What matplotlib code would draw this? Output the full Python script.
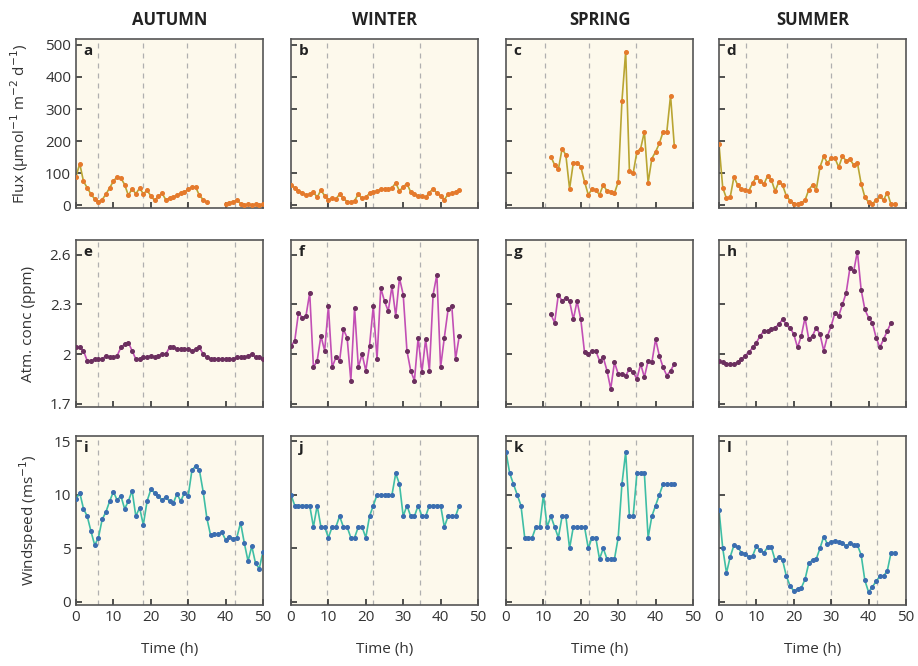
import matplotlib
matplotlib.use("Agg")
import matplotlib.pyplot as plt
import numpy as np

plt.rcParams['font.family'] = ['Open Sans', 'DejaVu Sans']

seasons = ["AUTUMN", "WINTER", "SPRING", "SUMMER"]
letters = list("abcdefghijkl")

# ---- Flux (row 1) ----
flux_a_x = list(range(0, 36)) + list(range(40, 51))
flux_a = [90, 130, 75, 55, 35, 20, 12, 18, 35, 55, 75, 90, 85, 65, 31, 52, 36, 54, 36, 47, 30, 16, 28, 38, 18, 22, 26, 32, 38, 42, 50, 57, 57, 31, 18, 10,
          3, 8, 12, 16, 6, 2, 3, 2, 3, 2, 3]
flux_b_x = list(range(0, 46))
flux_b = [65, 55, 45, 40, 32, 35, 42, 25, 48, 30, 18, 22, 20, 35, 22, 12, 10, 15, 35, 22, 25, 38, 42, 45, 50, 52, 50, 55, 70, 45,
          58, 68, 42, 35, 30, 28, 25, 40, 52, 38, 30, 18, 35, 38, 42, 48]
flux_c_x = list(range(12, 46))
flux_c = [152, 126, 112, 177, 157, 52, 133, 133, 121, 74, 33, 51, 48, 33, 64, 45, 43, 38, 73, 325, 479, 108, 100, 167, 177, 229,
          71, 146, 167, 193, 229, 229, 342, 185]
flux_d_x = list(range(0, 48))
flux_d = [190, 55, 22, 26, 89, 63, 50, 48, 46, 70, 89, 75, 66, 92, 80, 44, 74, 63, 30, 15, 3, 5, 8, 16, 49, 63, 49, 119, 153, 132,
          147, 147, 119, 153, 139, 144, 126, 133, 68, 26, 10, 5, 16, 28, 17, 40, 3, 3]

# ---- Atmospheric concentration (row 2) ----
conc_e_x = list(range(0, 51))
conc_e = [2.04, 2.04, 2.02, 1.96, 1.96, 1.97, 1.97, 1.97, 1.99, 1.98, 1.98, 1.99, 2.04, 2.06, 2.07, 2.02, 1.97, 1.97, 1.98, 1.98,
          1.99, 1.98, 1.99, 2.00, 2.00, 2.04, 2.04, 2.03, 2.03, 2.03, 2.03, 2.02, 2.03, 2.04, 2.00, 1.98, 1.97, 1.97, 1.97, 1.97,
          1.97, 1.97, 1.97, 1.98, 1.98, 1.98, 1.99, 2.00, 1.98, 1.98, 1.97]
conc_f_x = list(range(0, 46))
conc_f = [2.05, 2.08, 2.25, 2.22, 2.23, 2.37, 1.92, 1.96, 2.11, 2.02, 2.29, 1.92, 1.98, 1.96, 2.15, 2.10, 1.84, 2.28, 1.92, 2.00,
          1.90, 2.05, 2.29, 1.97, 2.40, 2.32, 2.26, 2.41, 2.23, 2.46, 2.36, 2.02, 1.90, 1.84, 2.10, 1.89, 2.09, 1.90, 2.36, 2.48,
          1.92, 2.10, 2.27, 2.29, 1.97, 2.11]
conc_g_x = list(range(12, 46))
conc_g = [2.24, 2.19, 2.36, 2.32, 2.34, 2.32, 2.21, 2.32, 2.21, 2.01, 2.00, 2.02, 2.02, 1.96, 1.98, 1.90, 1.79, 1.95, 1.88, 1.88,
          1.87, 1.91, 1.89, 1.85, 1.94, 1.86, 1.96, 1.95, 2.09, 1.99, 1.92, 1.87, 1.90, 1.94]
conc_h_x = list(range(0, 47))
conc_h = [1.96, 1.95, 1.94, 1.94, 1.94, 1.95, 1.97, 1.99, 2.01, 2.04, 2.07, 2.11, 2.14, 2.14, 2.15, 2.16, 2.18, 2.21, 2.18, 2.16,
          2.12, 2.04, 2.11, 2.22, 2.09, 2.11, 2.16, 2.12, 2.02, 2.11, 2.17, 2.25, 2.23, 2.30, 2.37, 2.52, 2.50, 2.62, 2.39, 2.27,
          2.22, 2.19, 2.10, 2.04, 2.09, 2.14, 2.19]

# ---- Windspeed (row 3) ----
wind_i_x = list(range(0, 51))
wind_i = [9.6, 10.2, 8.7, 8.0, 6.6, 5.3, 6.0, 7.7, 8.4, 9.4, 10.3, 9.5, 9.9, 8.7, 9.4, 10.4, 8.0, 8.8, 7.2, 9.4,
          10.5, 10.2, 9.9, 9.5, 9.8, 9.4, 9.2, 10.1, 9.4, 10.2, 9.9, 12.3, 12.7, 12.3, 10.3, 7.8, 6.2, 6.3, 6.3, 6.5,
          5.8, 6.1, 5.9, 6.0, 7.4, 5.5, 3.8, 5.2, 3.6, 3.1, 4.7]
wind_j_x = list(range(0, 46))
wind_j = [10, 9, 9, 9, 9, 9, 7, 9, 7, 7, 6, 7, 7, 8, 7, 7, 6, 6, 7, 7, 6, 8, 9, 10, 10, 10, 10, 10, 12, 11,
          8, 9, 8, 8, 9, 8, 8, 9, 9, 9, 9, 7, 8, 8, 8, 9]
wind_k_x = list(range(0, 46))
wind_k = [14, 12, 11, 10, 9, 6, 6, 6, 7, 7, 10, 7, 8, 7, 6, 8, 8, 5, 7, 7, 7, 7, 5, 6, 6, 4, 5, 4, 4, 4,
          6, 11, 14, 8, 8, 12, 12, 12, 6, 8, 9, 10, 11, 11, 11, 11]
wind_l_x = list(range(0, 48))
wind_l = [8.6, 5.0, 2.7, 4.2, 5.3, 5.1, 4.6, 4.5, 4.2, 4.3, 5.2, 4.8, 4.6, 5.1, 5.1, 3.9, 4.2, 3.9, 2.4, 1.5,
          1.0, 1.2, 1.3, 2.1, 3.6, 3.9, 4.0, 5.0, 6.1, 5.4, 5.6, 5.7, 5.6, 5.5, 5.2, 5.5, 5.3, 5.3, 4.4, 2.0,
          0.9, 1.4, 1.9, 2.4, 2.4, 2.9, 4.6, 4.6]

# dashed reference lines per season
night_lines = [[5.8, 17.9, 29.7, 42.6], [9.7, 21.8, 34.5], [10.3, 22.2, 34.8], [7.2, 18.2, 30.0, 42.3]]

rows = [
    dict(series=[(flux_a_x, flux_a), (flux_b_x, flux_b), (flux_c_x, flux_c), (flux_d_x, flux_d)],
         ylim=(-8, 518), yticks=[0, 100, 200, 300, 400, 500], yticklabels=["0", "100", "200", "300", "400", "500"],
         line="#b9a533", marker="#e57a2c", ylabel="Flux (µmol$^{-1}$ m$^{-2}$ d$^{-1}$)"),
    dict(series=[(conc_e_x, conc_e), (conc_f_x, conc_f), (conc_g_x, conc_g), (conc_h_x, conc_h)],
         ylim=(1.68, 2.69), yticks=[1.7, 2.0, 2.3, 2.6], yticklabels=["1.7", "2", "2.3", "2.6"],
         line="#c24fb5", marker="#6b2f5e", ylabel="Atm. conc (ppm)"),
    dict(series=[(wind_i_x, wind_i), (wind_j_x, wind_j), (wind_k_x, wind_k), (wind_l_x, wind_l)],
         ylim=(-0.3, 15.5), yticks=[0, 5, 10, 15], yticklabels=["0", "5", "10", "15"],
         line="#3fbea5", marker="#3b6db0", ylabel="Windspeed (ms$^{-1}$)"),
]

W, H = 918, 666
fig = plt.figure(figsize=(W / 100, H / 100), dpi=100)
lefts = [76, 291, 506, 719]
width = 187
row_tb = [(39, 208), (240, 407), (436, 605)]
bg = "#fdf9ec"
frame = "#555555"

for r, row in enumerate(rows):
    top, bot = row_tb[r]
    for c in range(4):
        ax = fig.add_axes([lefts[c] / W, 1 - bot / H, width / W, (bot - top) / H])
        ax.set_facecolor(bg)
        for xv in night_lines[c]:
            ax.axvline(xv, color="#b0b0b0", lw=0.9, ls=(0, (4, 4)), zorder=1)
        xs, ys = row["series"][c]
        if r == 0 and c == 0:
            # gap in the autumn flux record
            ax.plot(xs[:36], ys[:36], color=row["line"], lw=1.2, zorder=2)
            ax.plot(xs[36:], ys[36:], color=row["line"], lw=1.2, zorder=2)
        else:
            ax.plot(xs, ys, color=row["line"], lw=1.2, zorder=2)
        ax.plot(xs, ys, ls="none", marker="o", ms=2.6, mfc=row["marker"], mec=row["marker"], zorder=3)
        ax.set_xlim(0, 50)
        ax.set_ylim(*row["ylim"])
        ax.set_xticks([0, 10, 20, 30, 40, 50])
        ax.set_yticks(row["yticks"])
        ax.tick_params(direction="in", length=4, width=1.2, color="#333333", labelsize=11, labelcolor="#333333",
                       top=False, right=False)
        if c == 0:
            ax.set_yticklabels(row["yticklabels"])
            ax.set_ylabel(row["ylabel"], fontsize=11, color="#333333", labelpad=10)
        else:
            ax.set_yticklabels([])
        if r == 2:
            ax.set_xticklabels(["0", "10", "20", "30", "40", "50"])
            ax.set_xlabel("Time (h)", fontsize=11, color="#333333", labelpad=12)
        else:
            ax.set_xticklabels([])
        for s in ax.spines.values():
            s.set_color(frame)
            s.set_linewidth(1.2)
        ax.text(0.04, 0.97, letters[r * 4 + c], transform=ax.transAxes, ha="left", va="top",
                fontsize=11, fontweight="bold", color="#222222")
        if r == 0:
            ax.set_title(seasons[c], fontsize=12, fontweight="bold", color="#222222", pad=10)

fig.savefig("out.png", dpi=100, facecolor="white")
